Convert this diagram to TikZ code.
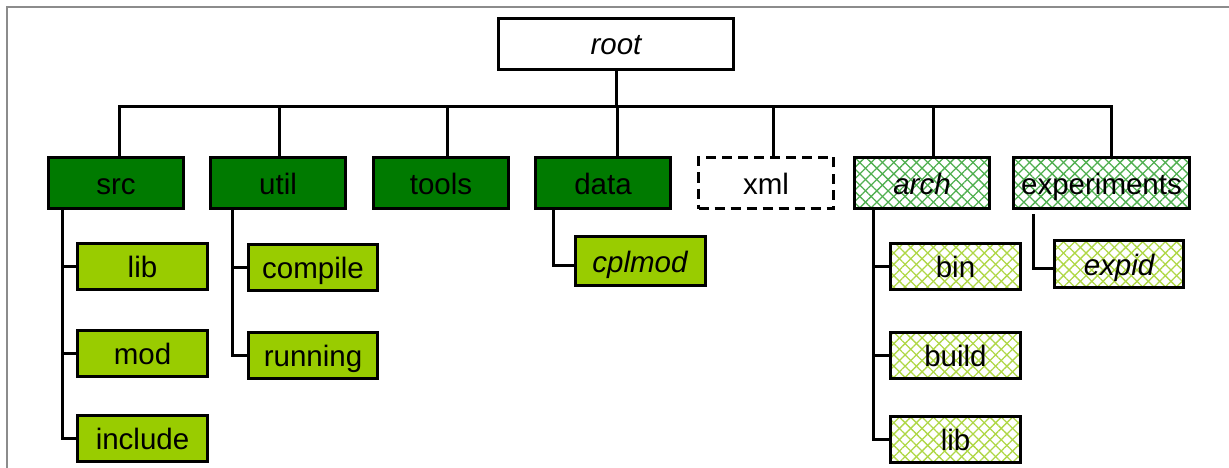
\documentclass[tikz,border=0pt]{standalone}
\usepackage{fontspec}
\setmainfont{Liberation Sans}
\usetikzlibrary{patterns.meta}
\definecolor{darkgrn}{RGB}{0,122,0}
\definecolor{lightgrn}{RGB}{153,204,0}
\definecolor{hatchdark}{RGB}{80,175,80}
\definecolor{hatchlight}{RGB}{175,215,70}
\definecolor{framegray}{RGB}{140,140,140}
\tikzset{
  box/.style={draw=black, line width=3pt, inner sep=0pt, text height=22pt, text depth=0pt,
    font=\fontsize{29.5}{32}\selectfont},
  top/.style={box, minimum width=135pt, minimum height=51pt},
  sub/.style={box, minimum width=130pt, minimum height=46pt},
  solidA/.style={fill=darkgrn},
  solidB/.style={fill=lightgrn},
  hatchA/.style={pattern={Lines[angle=45,distance=8pt,line width=1.3pt]}, pattern color=hatchdark,
    preaction={pattern={Lines[angle=-45,distance=8pt,line width=1.3pt]}, pattern color=hatchdark}},
  hatchB/.style={pattern={Lines[angle=45,distance=8pt,line width=1.3pt]}, pattern color=hatchlight,
    preaction={pattern={Lines[angle=-45,distance=8pt,line width=1.3pt]}, pattern color=hatchlight}},
  link/.style={draw=black, line width=3pt},
}
\begin{document}
\begin{tikzpicture}[x=1pt, y=-1pt]
\useasboundingbox (0,0) rectangle (1229,468);
% outer frame (top and left edges)
\draw[framegray, line width=2pt] (7,468) -- (7,7) -- (1229,7);

% root
\node[box, minimum width=235pt, minimum height=51pt] (root) at (616,44) {\itshape root};

% first level
\node[top, solidA] (src)   at (116,183) {src};
\node[top, solidA] (util)  at (278,183) {util};
\node[top, solidA] (tools) at (441,183) {tools};
\node[top, solidA] (data)  at (603,183) {data};
\node[top, dashed, dash pattern=on 10pt off 6pt] (xml) at (766,183) {xml};
\node[top, hatchA] (arch)  at (922,183) {\itshape arch};
\node[top, hatchA, minimum width=176pt] (exp) at (1101.5,183) {experiments};

% second level
\node[sub, solidB] (lib)     at (142.5,266) {lib};
\node[sub, solidB] (mod)     at (142.5,353.5) {mod};
\node[sub, solidB] (include) at (142.5,438.5) {include};
\node[sub, solidB, minimum width=129pt] (compile) at (313,267) {compile};
\node[sub, solidB, minimum width=129pt] (running) at (313,355) {running};
\node[sub, solidB, minimum height=49pt] (cplmod) at (640,261) {\itshape cplmod};
\node[sub, hatchB] (bin)   at (955.5,266.5) {bin};
\node[sub, hatchB] (build) at (955.5,355) {build};
\node[sub, hatchB] (alib)  at (955.5,439.5) {lib};
\node[sub, hatchB, minimum width=129pt, minimum height=47pt] (expid) at (1119,264) {\itshape expid};

% bus from the root to the first level
\coordinate (bus) at (616,107);
\draw[link] (root.south) -- (bus);
\draw[link] (src.north -| 119,0)    |- (bus);
\draw[link] (util.north -| 279,0)   |- (bus);
\draw[link] (tools.north -| 447,0)  |- (bus);
\draw[link] (data.north -| 617,0)   |- (bus);
\draw[link] (xml.north -| 773,0)    |- (bus);
\draw[link] (arch.north -| 933,0)   |- (bus);
\draw[link] (exp.north -| 1111,0)   |- (bus);

% first level to second level
\draw[link] (src.south -| 62,0) |- (lib.west);
\draw[link] (src.south -| 62,0) |- (mod.west);
\draw[link] (src.south -| 62,0) |- (include.west);
\draw[link] (util.south -| 232,0) |- (compile.west);
\draw[link] (util.south -| 232,0) |- (running.west);
\draw[link] (data.south -| 553,0) |- ([yshift=-4pt]cplmod.west);
\draw[link] (arch.south -| 873,0) |- (bin.west);
\draw[link] (arch.south -| 873,0) |- (build.west);
\draw[link] (arch.south -| 873,0) |- (alib.west);
\draw[link] ([yshift=-4pt]exp.south -| 1033,0) |- ([yshift=-4pt]expid.west);
\end{tikzpicture}
\end{document}
